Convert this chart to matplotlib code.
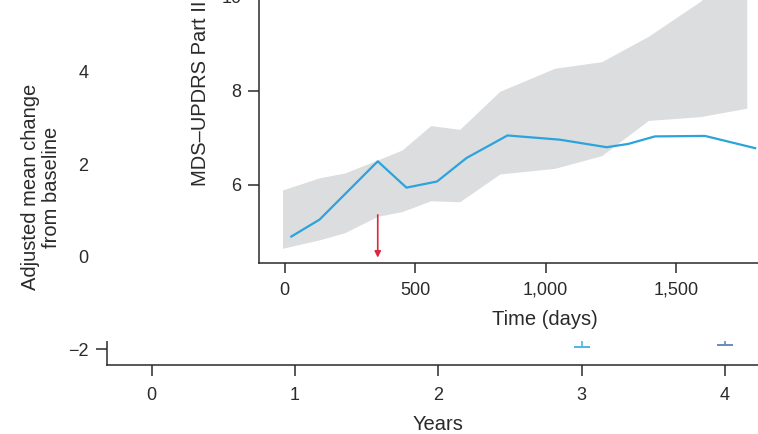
import matplotlib
matplotlib.use("Agg")
import matplotlib.pyplot as plt
from matplotlib.patches import Rectangle
import numpy as np

plt.rcParams['font.family'] = ['Liberation Sans', 'DejaVu Sans']

# ---------------- data ----------------
# outer panel (years)
outer_xticks = [0, 1, 2, 3, 4]
outer_yticks = [-2, 0, 2, 4]
cap_years = [3, 4]
cap_lower = [-1.96, -1.90]
cap_colors = ['#4db6e4', '#6a88c2']

# inset panel (days)
line_days = [26, 134, 357, 467, 584, 697, 854, 1055, 1234, 1317, 1419, 1611, 1803]
line_vals = [4.90, 5.26, 6.50, 5.94, 6.07, 6.57, 7.05, 6.96, 6.80, 6.87, 7.03, 7.04, 6.78]

band_days = [-8, 134, 230, 357, 450, 560, 671, 825, 1035, 1215, 1394, 1592, 1771]
band_upper = [5.89, 6.15, 6.25, 6.53, 6.74, 7.26, 7.18, 7.99, 8.48, 8.62, 9.16, 9.90, 10.8]
band_lower = [4.65, 4.83, 4.98, 5.33, 5.43, 5.66, 5.64, 6.23, 6.35, 6.62, 7.37, 7.45, 7.63]

inset_xticks = [0, 500, 1000, 1500]
inset_xticklabels = ['0', '500', '1,000', '1,500']
inset_yticks = [6, 8, 10]

arrow_day = 357
arrow_from = 5.36
arrow_to = 4.45

# ---------------- style ----------------
W, H = 758, 434
TXT = '#2a2a2a'
SPINE = '#2a2a2a'
BLUE = '#2ba3dc'
BAND = '#dcdddf'
RED = '#e0263e'
TICKFS = 13
LABFS = 14.5

fig = plt.figure(figsize=(W / 100, H / 100), dpi=100)

def fx(px):
    return px / W

def fy(py):
    return (H - py) / H

# outer axes
ox0, ox1 = 107.3, 758
oy0, oy1 = 365, 0
ax = fig.add_axes([fx(ox0), fy(oy0), fx(ox1) - fx(ox0), fy(oy1) - fy(oy0)])
ax.set_zorder(1)
ax.set_xlim(-0.31, 4.232)
ax.set_ylim(-2.34, 5.555)
ax.set_xticks(outer_xticks)
ax.set_yticks(outer_yticks)
for s in ['top', 'right']:
    ax.spines[s].set_visible(False)
for s in ['left', 'bottom']:
    ax.spines[s].set_color(SPINE)
    ax.spines[s].set_linewidth(1.1)
ax.tick_params(axis='x', length=8.2, width=1.1, pad=7.5, labelsize=TICKFS, colors=TXT)
ax.tick_params(axis='y', length=7.6, width=1.1, pad=6.0, labelsize=TICKFS, colors=TXT)
ax.patch.set_alpha(0)

for yr, lo, c in zip(cap_years, cap_lower, cap_colors):
    ax.errorbar([yr], [lo + 0.5], yerr=[[0.5], [0]], fmt='none', ecolor=c,
                elinewidth=1.2, capsize=6.1, capthick=1.4)

# white cover over upper part of the outer panel
cover = Rectangle((fx(95), fy(341)), 1 - fx(95), 1 - fy(341), transform=fig.transFigure,
                  facecolor='white', edgecolor='none', zorder=1.5)
fig.add_artist(cover)

# inset axes
ix0, ix1 = 259, 758
iy0 = 263.3
ylo, yhi = 4.33, 10.5
ppu = 47.0
iy1 = iy0 - (yhi - ylo) * ppu
axi = fig.add_axes([fx(ix0), fy(iy0), fx(ix1) - fx(ix0), fy(iy1) - fy(iy0)])
axi.set_zorder(2)
axi.set_xlim(-98, 1814)
axi.set_ylim(ylo, yhi)
axi.patch.set_alpha(0)
for s in ['top', 'right']:
    axi.spines[s].set_visible(False)
for s in ['left', 'bottom']:
    axi.spines[s].set_color(SPINE)
    axi.spines[s].set_linewidth(1.1)
axi.set_xticks(inset_xticks)
axi.set_xticklabels(inset_xticklabels)
axi.set_yticks(inset_yticks)
axi.tick_params(axis='x', length=7.2, width=1.1, pad=6.0, labelsize=TICKFS, colors=TXT)
axi.tick_params(axis='y', length=8.0, width=1.1, pad=4.5, labelsize=TICKFS, colors=TXT)

axi.fill_between(band_days, band_lower, band_upper, color=BAND, linewidth=0, zorder=1)
axi.plot(line_days, line_vals, color=BLUE, lw=1.6, zorder=3)
axi.annotate('', xy=(arrow_day, arrow_to), xytext=(arrow_day, arrow_from),
             arrowprops=dict(arrowstyle='-|>', color=RED, lw=1.2, mutation_scale=9,
                             shrinkA=0, shrinkB=0), zorder=4)

# labels
fig.text(fx(41), fy(187), 'Adjusted mean change\nfrom baseline', rotation=90,
         ha='center', va='center', multialignment='center', fontsize=LABFS, color=TXT,
         linespacing=1.15)
fig.text(fx(200), fy(186), 'MDS\u2013UPDRS Part III', rotation=90, ha='center', va='bottom',
         fontsize=LABFS, color=TXT, zorder=5)
fig.text(fx(545), fy(325), 'Time (days)', ha='center', va='baseline', fontsize=LABFS,
         color=TXT, zorder=5)
fig.text(fx(438), fy(430), 'Years', ha='center', va='baseline', fontsize=LABFS, color=TXT)

fig.savefig('out.png', dpi=100)
